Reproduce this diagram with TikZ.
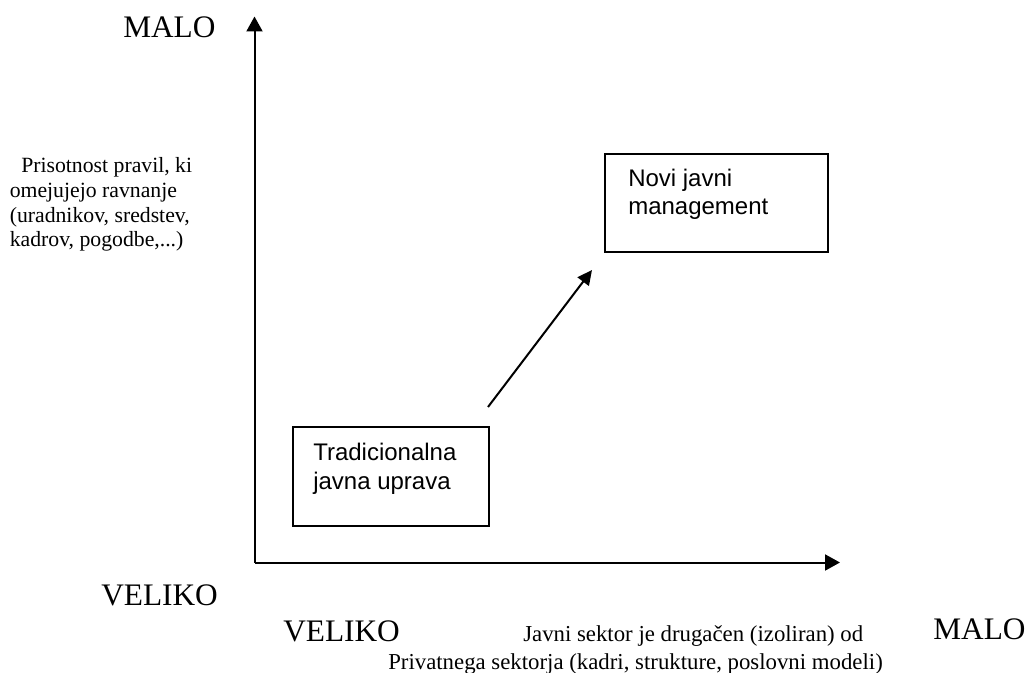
\documentclass[tikz,border=0pt]{standalone}
\usepackage{fontspec}
\setmainfont{Liberation Serif}
\newfontfamily\boxfont{Liberation Sans}
\usetikzlibrary{arrows.meta}
\begin{document}
\begin{tikzpicture}[x=0.75pt,y=-0.75pt,
  axis/.style={line width=1.5pt,-{Triangle[length=11.25pt,width=12pt]}},
  trend/.style={line width=1.5pt,-{Triangle[length=11pt,width=10.5pt]}},
  bigtxt/.style={anchor=base west,inner sep=0pt,font=\fontsize{23.5pt}{28pt}\selectfont},
  sidetxt/.style={anchor=base west,inner sep=0pt,font=\fontsize{16.3pt}{19pt}\selectfont},
  bottxt/.style={anchor=base west,inner sep=0pt,font=\fontsize{17.1pt}{21pt}\selectfont},
  boxtxt/.style={anchor=base west,inner sep=0pt,font=\boxfont\fontsize{18pt}{21pt}\selectfont},
  stagebox/.style={draw,line width=1pt,rectangle,inner sep=0pt}]
\useasboundingbox (0,0) rectangle (1025,673);
% axes
\coordinate (O) at (254.5,562.5);
\coordinate (Ytip) at (254.5,16.5);
\coordinate (Xtip) at (840,562.5);
\draw[axis] (O) -- (Ytip);
\draw[axis] (O) -- (Xtip);
% boxes
\node[stagebox,minimum width=196*0.75pt,minimum height=99*0.75pt] (trad) at (391,476.5) {};
\node[stagebox,minimum width=223*0.75pt,minimum height=98*0.75pt] (npm) at (716.5,203) {};
\node[boxtxt] (trad1) at (313,461) {Tradicionalna};
\node[boxtxt] (trad2) at (313,489) {javna uprava};
\node[boxtxt] (npm1) at (628,187) {Novi javni};
\node[boxtxt] (npm2) at (628,215) {management};
% trend arrow
\coordinate (from) at (488,407);
\coordinate (to) at (592,270);
\draw[trend] (from) -- (to);
% axis labels
\node[bigtxt] (ymalo) at (123,37.3) {MALO};
\node[bigtxt] (yveliko) at (101,605) {VELIKO};
\node[bigtxt] (xveliko) at (283,641) {VELIKO};
\node[bigtxt] (xmalo) at (933,639) {MALO};
\node[sidetxt] (yl1) at (21,172.7) {Prisotnost pravil, ki};
\node[sidetxt] (yl2) at (9.5,197.5) {omejujejo ravnanje};
\node[sidetxt] (yl3) at (9.5,222.3) {(uradnikov, sredstev,};
\node[sidetxt] (yl4) at (9.5,247) {kadrov, pogodbe,...)};
\node[bottxt] (xl1) at (523,641.5) {Javni sektor je drugačen (izoliran) od};
\node[bottxt] (xl2) at (388,669) {Privatnega sektorja (kadri, strukture, poslovni modeli)};
\end{tikzpicture}
\end{document}
